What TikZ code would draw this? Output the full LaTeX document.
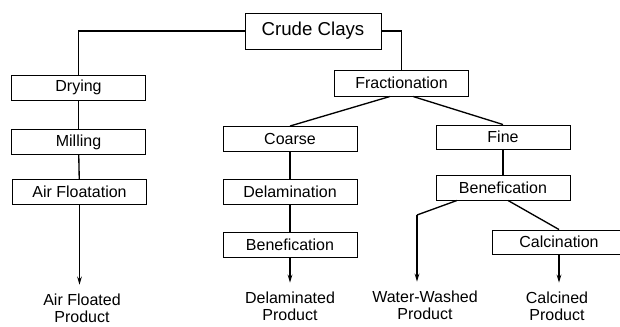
\documentclass[tikz,border=0pt]{standalone}
\usepackage{fontspec}
\setmainfont{Liberation Sans}
\usetikzlibrary{arrows.meta}

\tikzset{
  stepbox/.style={draw, line width=0.7pt, minimum width=100.5pt, minimum height=18.75pt,
    inner sep=0pt, font=\fontsize{12}{14}\selectfont},
  flow/.style={line width=1pt},
  outflow/.style={line width=1pt, -{Stealth[length=6pt,width=3.5pt]}, shorten >=7pt},
  product/.style={anchor=north, inner sep=0pt, align=center,
    font=\fontsize{12}{12.5}\selectfont}
}

\begin{document}
\begin{tikzpicture}[x=0.75pt,y=-0.75pt]
\useasboundingbox (0,0) rectangle (620,327);

\node[stepbox, minimum width=102pt, minimum height=27pt,
      font=\fontsize{14}{17}\selectfont] (crude) at (313,31) {Crude Clays};

\node[stepbox] (drying) at (78.5,87.5) {Drying};
\node[stepbox] (milling) at (78.5,142) {Milling};
\node[stepbox] (airfloat) at (79.5,192) {Air Floatation};

\node[stepbox, minimum width=101pt, minimum height=19.5pt] (frac) at (401.5,83) {Fractionation};

\node[stepbox] (coarse) at (290,139) {Coarse};
\node[stepbox] (delam) at (290,191.5) {Delamination};
\node[stepbox] (benefl) at (290,245) {Benefication};

\node[stepbox, minimum height=18pt] (fine) at (503,137) {Fine};
\node[stepbox] (benefr) at (503,187.5) {Benefication};
\node[stepbox, minimum height=18pt] (calc) at (559,242) {Calcination};

\node[product] (airprod) at (82,294) {Air Floated\\Product};
\node[product] (delamprod) at (290,292) {Delaminated\\Product};
\node[product] (waterprod) at (425,291) {Water-Washed\\Product};
\node[product] (calcprod) at (557,292) {Calcined\\Product};

\coordinate (bend) at (417,215);

\draw[flow] (crude.west) -| (drying.north);
\draw[flow] (drying) -- (milling);
\draw[flow] (milling) -- (airfloat);
\draw[outflow] (airfloat.south) -- (airfloat.south |- airprod.north);

\draw[flow] (crude.east) -| (frac.north);
\draw[flow] ([xshift=-8.6pt]frac.south) -- (coarse.north);
\draw[flow] ([xshift=8.6pt]frac.south) -- (fine.north);

\draw[flow] (coarse) -- (delam);
\draw[flow] (delam) -- (benefl);
\draw[outflow] (benefl.south) -- (benefl.south |- delamprod.north);

\draw[flow] (fine) -- (benefr);
\draw[flow] ([xshift=-34.5pt]benefr.south) -- (bend);
\draw[outflow] (bend) -- (bend |- waterprod.north);
\draw[flow] ([xshift=3.75pt]benefr.south) -- (calc.north);
\draw[outflow] (calc.south) -- (calc.south |- calcprod.north);
\end{tikzpicture}
\end{document}
